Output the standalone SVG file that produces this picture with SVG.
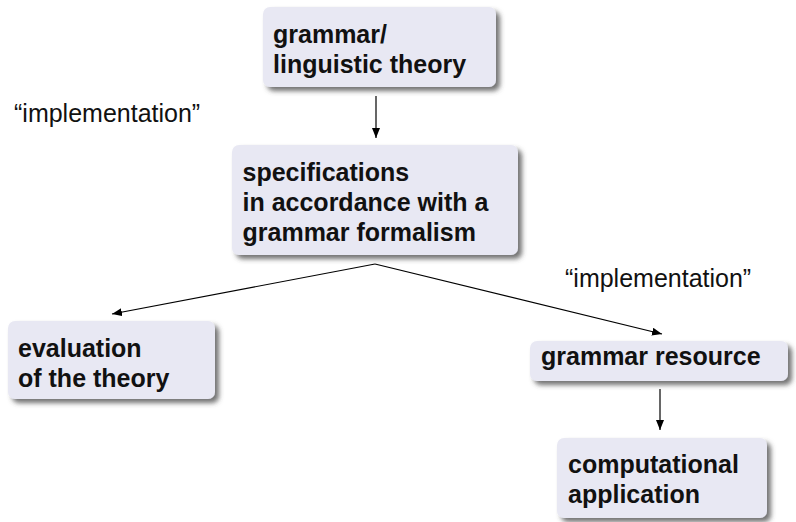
<svg xmlns="http://www.w3.org/2000/svg" width="796" height="522" viewBox="0 0 796 522">
<defs>
<style>
.box{fill:#e8e8f3;filter:url(#sh)}
.t{font-family:"Liberation Sans",Arial,sans-serif;font-weight:bold;font-size:25px;fill:#111}
.lbl{font-family:"Liberation Sans",Arial,sans-serif;font-size:25px;fill:#111}
.c{stroke:#000;stroke-width:1.2;fill:none;marker-end:url(#ah)}
</style>
<filter id="sh" x="-10%" y="-10%" width="130%" height="140%">
<feDropShadow dx="4" dy="4" stdDeviation="2.5" flood-color="#444" flood-opacity="0.75"/>
</filter>
<marker id="ah" viewBox="0 0 10 8" refX="10" refY="4" markerWidth="10" markerHeight="8" markerUnits="userSpaceOnUse" orient="auto">
<path d="M0,0 L10,4 L0,8 Z" fill="#000"/>
</marker>
</defs>
<rect width="796" height="522" fill="#fff"/>
<g id="connectors">
<line class="c" x1="376" y1="96" x2="376" y2="138"/>
<line class="c" x1="375" y1="264" x2="112" y2="314"/>
<line class="c" x1="375" y1="264" x2="662" y2="334"/>
<line class="c" x1="660" y1="389" x2="660" y2="430"/>
</g>
<g id="label-left"><text class="lbl" x="14" y="122">“implementation”</text></g>
<g id="label-right"><text class="lbl" x="565" y="287">“implementation”</text></g>
<g id="n1">
<rect class="box" x="263" y="7" width="233" height="80" rx="7"/>
<text class="t" x="273" y="43">grammar/</text>
<text class="t" x="273" y="73">linguistic theory</text>
</g>
<g id="n2">
<rect class="box" x="232" y="145" width="286" height="110" rx="7"/>
<text class="t" x="242.5" y="181">specifications</text>
<text class="t" x="242.5" y="211">in accordance with a</text>
<text class="t" x="242.5" y="241">grammar formalism</text>
</g>
<g id="n3">
<rect class="box" x="8" y="321" width="207" height="78" rx="7"/>
<text class="t" x="18" y="357">evaluation</text>
<text class="t" x="18" y="387">of the theory</text>
</g>
<g id="n4">
<rect class="box" x="530" y="341" width="258" height="40" rx="7"/>
<text class="t" x="541" y="365">grammar resource</text>
</g>
<g id="n5">
<rect class="box" x="557" y="438" width="210" height="80" rx="7"/>
<text class="t" x="568" y="473">computational</text>
<text class="t" x="568" y="503">application</text>
</g>
</svg>
